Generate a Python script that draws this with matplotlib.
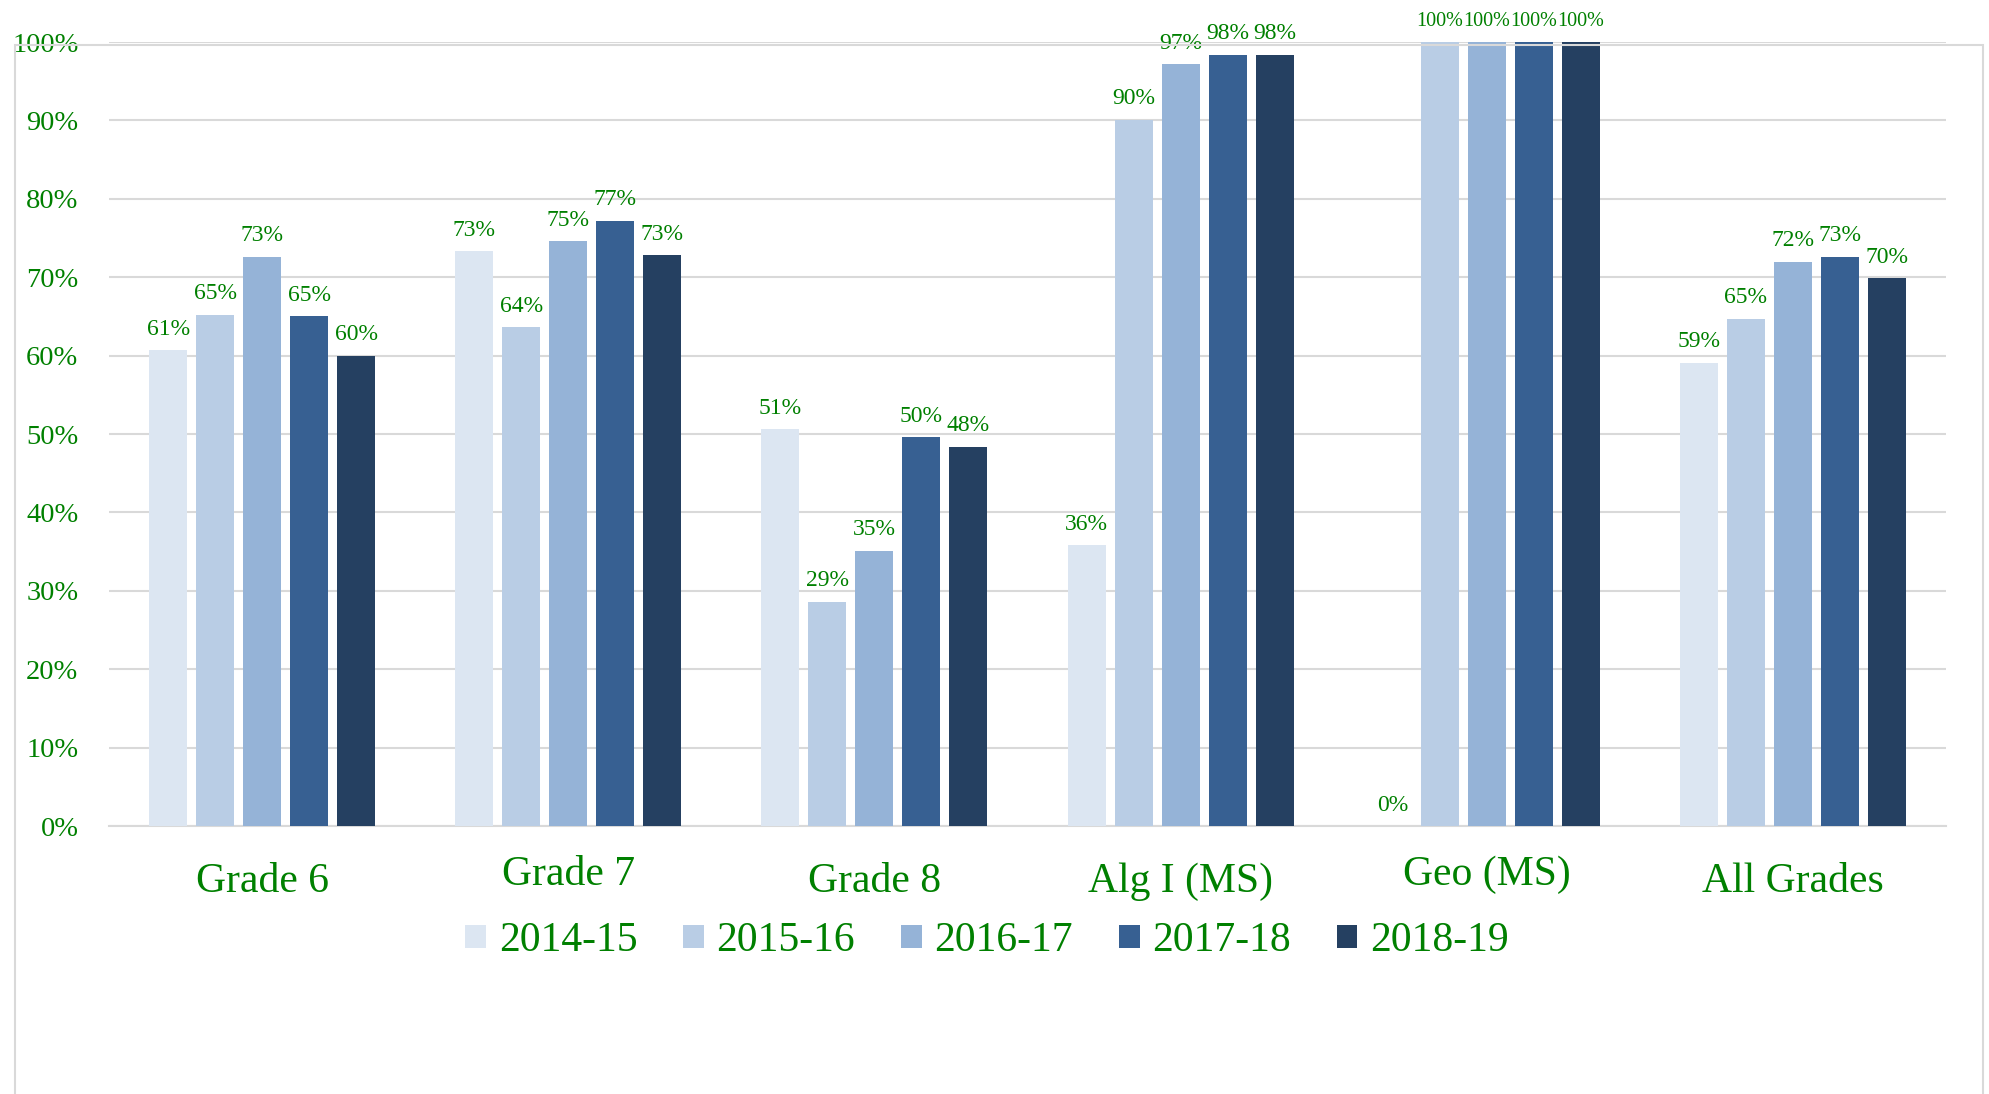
import matplotlib
matplotlib.use("Agg")
import matplotlib.pyplot as plt
import matplotlib.patches as mpatches
from matplotlib.transforms import blended_transform_factory, offset_copy
import numpy as np

# ---- data ----
categories = ["Grade 6", "Grade 7", "Grade 8", "Alg I (MS)", "Geo (MS)", "All Grades"]
years = ["2014-15", "2015-16", "2016-17", "2017-18", "2018-19"]
v_2014_15 = [0.607, 0.733, 0.506, 0.358, 0.000, 0.591]
v_2015_16 = [0.652, 0.636, 0.286, 0.901, 1.000, 0.647]
v_2016_17 = [0.726, 0.746, 0.351, 0.972, 1.000, 0.720]
v_2017_18 = [0.650, 0.772, 0.496, 0.984, 1.000, 0.726]
v_2018_19 = [0.600, 0.728, 0.484, 0.984, 1.000, 0.699]
series = [v_2014_15, v_2015_16, v_2016_17, v_2017_18, v_2018_19]
yticks = [0, 0.1, 0.2, 0.3, 0.4, 0.5, 0.6, 0.7, 0.8, 0.9, 1.0]
ytick_labels = ["0%", "10%", "20%", "30%", "40%", "50%", "60%", "70%", "80%", "90%", "100%"]

colors = ["#DCE6F2", "#B9CDE5", "#95B3D7", "#376092", "#254061"]
green = "#008000"
grid_c = "#D9D9D9"

plt.rcParams['font.family'] = ['Liberation Serif', 'DejaVu Serif']

W, H = 1990, 1094
fig = plt.figure(figsize=(W / 100, H / 100), dpi=100)
ax = fig.add_axes([109 / W, (H - 826) / H, (1946 - 109) / W, (826 - 42) / H])

x = np.arange(len(categories))
bw = 0.124
pitch = 0.1535
for j, (vals, yr, c) in enumerate(zip(series, years, colors)):
    pos = x + (j - 2) * pitch
    bars = ax.bar(pos, vals, width=bw, color=c, label=yr, zorder=3)
    for b, v in zip(bars, vals):
        lab = f"{int(round(v * 100))}%"
        fs = 14.5 if len(lab) > 3 else 17
        ax.annotate(lab, (b.get_x() + b.get_width() / 2, v),
                    xytext=(0, 15), textcoords="offset points",
                    ha="center", va="center", color=green, fontsize=fs,
                    zorder=4, annotation_clip=False)

ax.set_xlim(-0.5, len(categories) - 0.5)
ax.set_ylim(0, 1.0)
ax.set_yticks(yticks)
ax.set_yticklabels(ytick_labels)
ax.tick_params(axis="y", length=0, pad=22, labelsize=20.5, labelcolor=green)
ax.tick_params(axis="x", length=0, labelbottom=False)
ax.set_xticks(x)
ax.grid(axis="y", color=grid_c, linewidth=1.5, zorder=0)
ax.set_axisbelow(True)
for s in ["left", "right", "top"]:
    ax.spines[s].set_visible(False)
ax.spines["bottom"].set_color(grid_c)
ax.spines["bottom"].set_linewidth(1.5)

# category labels (slightly staggered as in the reference)
trans = blended_transform_factory(ax.transData, ax.transAxes)
for i, cat in enumerate(categories):
    off = -49 if i in (1, 4) else -56
    t = offset_copy(trans, fig=fig, x=0, y=off * 0.72, units="points")
    ax.text(x[i], 0, cat, transform=t, ha="center", va="center",
            fontsize=30, color=green)

# legend
leg = fig.legend(loc="center", bbox_to_anchor=(987 / W, 1 - 941 / H), ncol=5,
                 frameon=False, fontsize=30, handlelength=0.5, handleheight=0.5,
                 handletextpad=0.3, columnspacing=1.1)
for t in leg.get_texts():
    t.set_color(green)

# outer frame
frame = mpatches.Rectangle((15 / W, -0.02), (1983 - 15) / W, 1 - 45 / H + 0.02,
                           transform=fig.transFigure, fill=False,
                           edgecolor=grid_c, linewidth=1.5, zorder=0)
fig.patches.append(frame)

fig.savefig("out.png", dpi=100, facecolor="white")
